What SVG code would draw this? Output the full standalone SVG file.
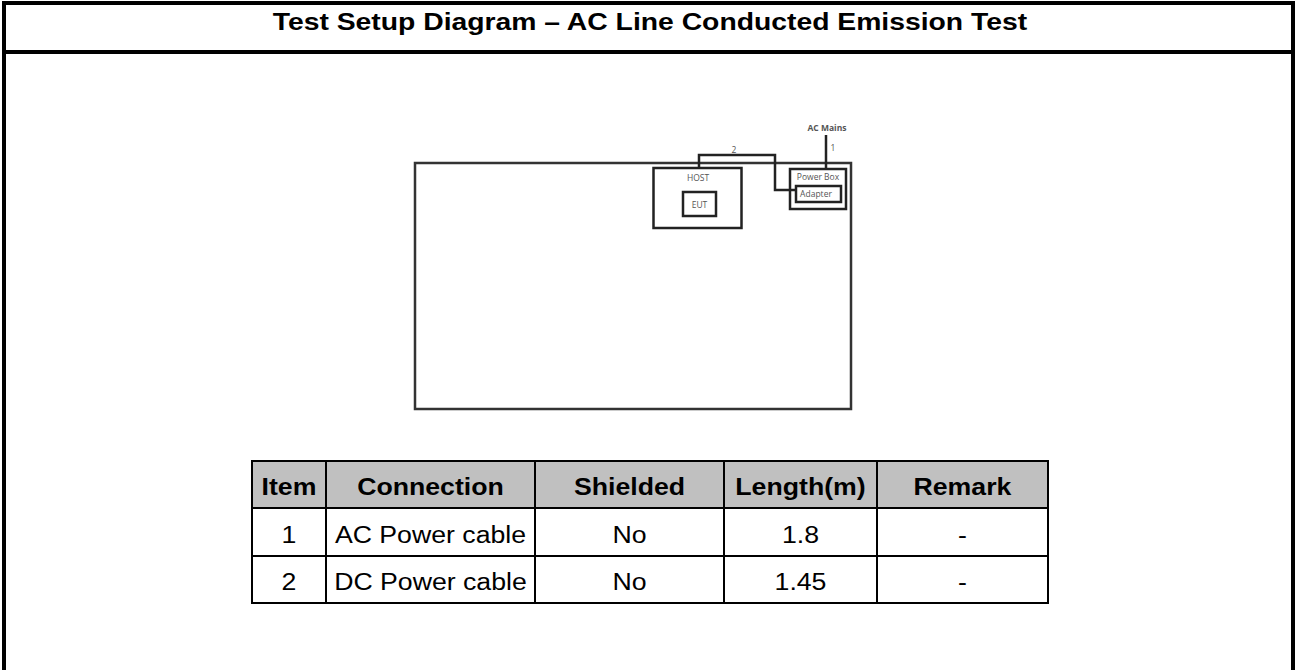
<svg xmlns="http://www.w3.org/2000/svg" width="1295" height="670" viewBox="0 0 1295 670">
<style>
.frame{fill:none;stroke:#000;stroke-width:4}
.box{fill:none;stroke:#222;stroke-width:2.5}
.wire{fill:none;stroke:#222;stroke-width:2.5}
.small{font-family:"Open Sans","Noto Sans",sans-serif;font-size:8.5px;fill:#555;text-anchor:middle}
.tline{fill:none;stroke:#000;stroke-width:2}
.hd{font-family:"Liberation Sans",Arial,sans-serif;font-weight:bold;font-size:23px;fill:#000;text-anchor:middle}
.td{font-family:"Liberation Sans",Arial,sans-serif;font-size:23px;fill:#000;text-anchor:middle}
.title{font-family:"Liberation Sans",Arial,sans-serif;font-weight:bold;font-size:24px;fill:#000;text-anchor:middle}
</style>
<rect width="1295" height="670" fill="#fff"/>
<g id="frame">
<path class="frame" d="M4 672 V3 H1293 V672"/>
<line class="frame" x1="4" y1="52" x2="1293" y2="52" stroke-width="3"/>
<g transform="scale(1.18 1)"><text class="title" x="550.8" y="30">Test Setup Diagram – AC Line Conducted Emission Test</text></g>
</g>
<g id="table-area">
<rect x="415" y="163" width="436" height="246" fill="none" stroke="#333" stroke-width="2.5"/>
</g>
<g id="host">
<rect class="box" x="653.5" y="168" width="88" height="60"/>
<text class="small" x="698" y="181">HOST</text>
</g>
<g id="eut">
<rect class="box" x="683" y="192" width="33" height="24"/>
<text class="small" x="699.5" y="207.5" font-size="10">EUT</text>
</g>
<g id="powerbox">
<rect class="box" x="790" y="169" width="56" height="40"/>
<text class="small" x="818" y="180">Power Box</text>
</g>
<g id="adapter">
<rect class="box" x="796" y="186" width="45" height="16"/>
<text class="small" x="816" y="196.5">Adapter</text>
</g>
<g id="acmains">
<text class="small" x="827" y="131" font-size="6.5" font-weight="bold" fill="#333">AC Mains</text>
</g>
<g id="connectors">
<polyline class="wire" points="699,168 699,155 775,155 775,190 796,190"/>
<line class="wire" x1="826" y1="135" x2="826" y2="169"/>
<text class="small" x="734" y="153" font-size="7.5">2</text>
<text class="small" x="833" y="151" font-size="7.5">1</text>
</g>
<g id="cable-table">
<rect x="252" y="461" width="796" height="47" fill="#c0c0c0"/>
<rect class="tline" x="252" y="461" width="796" height="142"/>
<line class="tline" x1="252" y1="508" x2="1048" y2="508"/>
<line class="tline" x1="252" y1="556" x2="1048" y2="556"/>
<line class="tline" x1="326" y1="461" x2="326" y2="603"/>
<line class="tline" x1="535" y1="461" x2="535" y2="603"/>
<line class="tline" x1="724" y1="461" x2="724" y2="603"/>
<line class="tline" x1="877" y1="461" x2="877" y2="603"/>
<g transform="scale(1.16 1)">
<text class="hd" x="249.1" y="495">Item</text>
<text class="hd" x="371.1" y="495">Connection</text>
<text class="hd" x="542.7" y="495">Shielded</text>
<text class="hd" x="690.1" y="495">Length(m)</text>
<text class="hd" x="829.7" y="495">Remark</text>
<text class="td" x="249.1" y="543">1</text>
<text class="td" x="371.1" y="543">AC Power cable</text>
<text class="td" x="542.7" y="543">No</text>
<text class="td" x="690.1" y="543">1.8</text>
<text class="td" x="829.7" y="543">-</text>
<text class="td" x="249.1" y="590">2</text>
<text class="td" x="371.1" y="590">DC Power cable</text>
<text class="td" x="542.7" y="590">No</text>
<text class="td" x="690.1" y="590">1.45</text>
<text class="td" x="829.7" y="590">-</text>
</g>
</g>
</svg>
